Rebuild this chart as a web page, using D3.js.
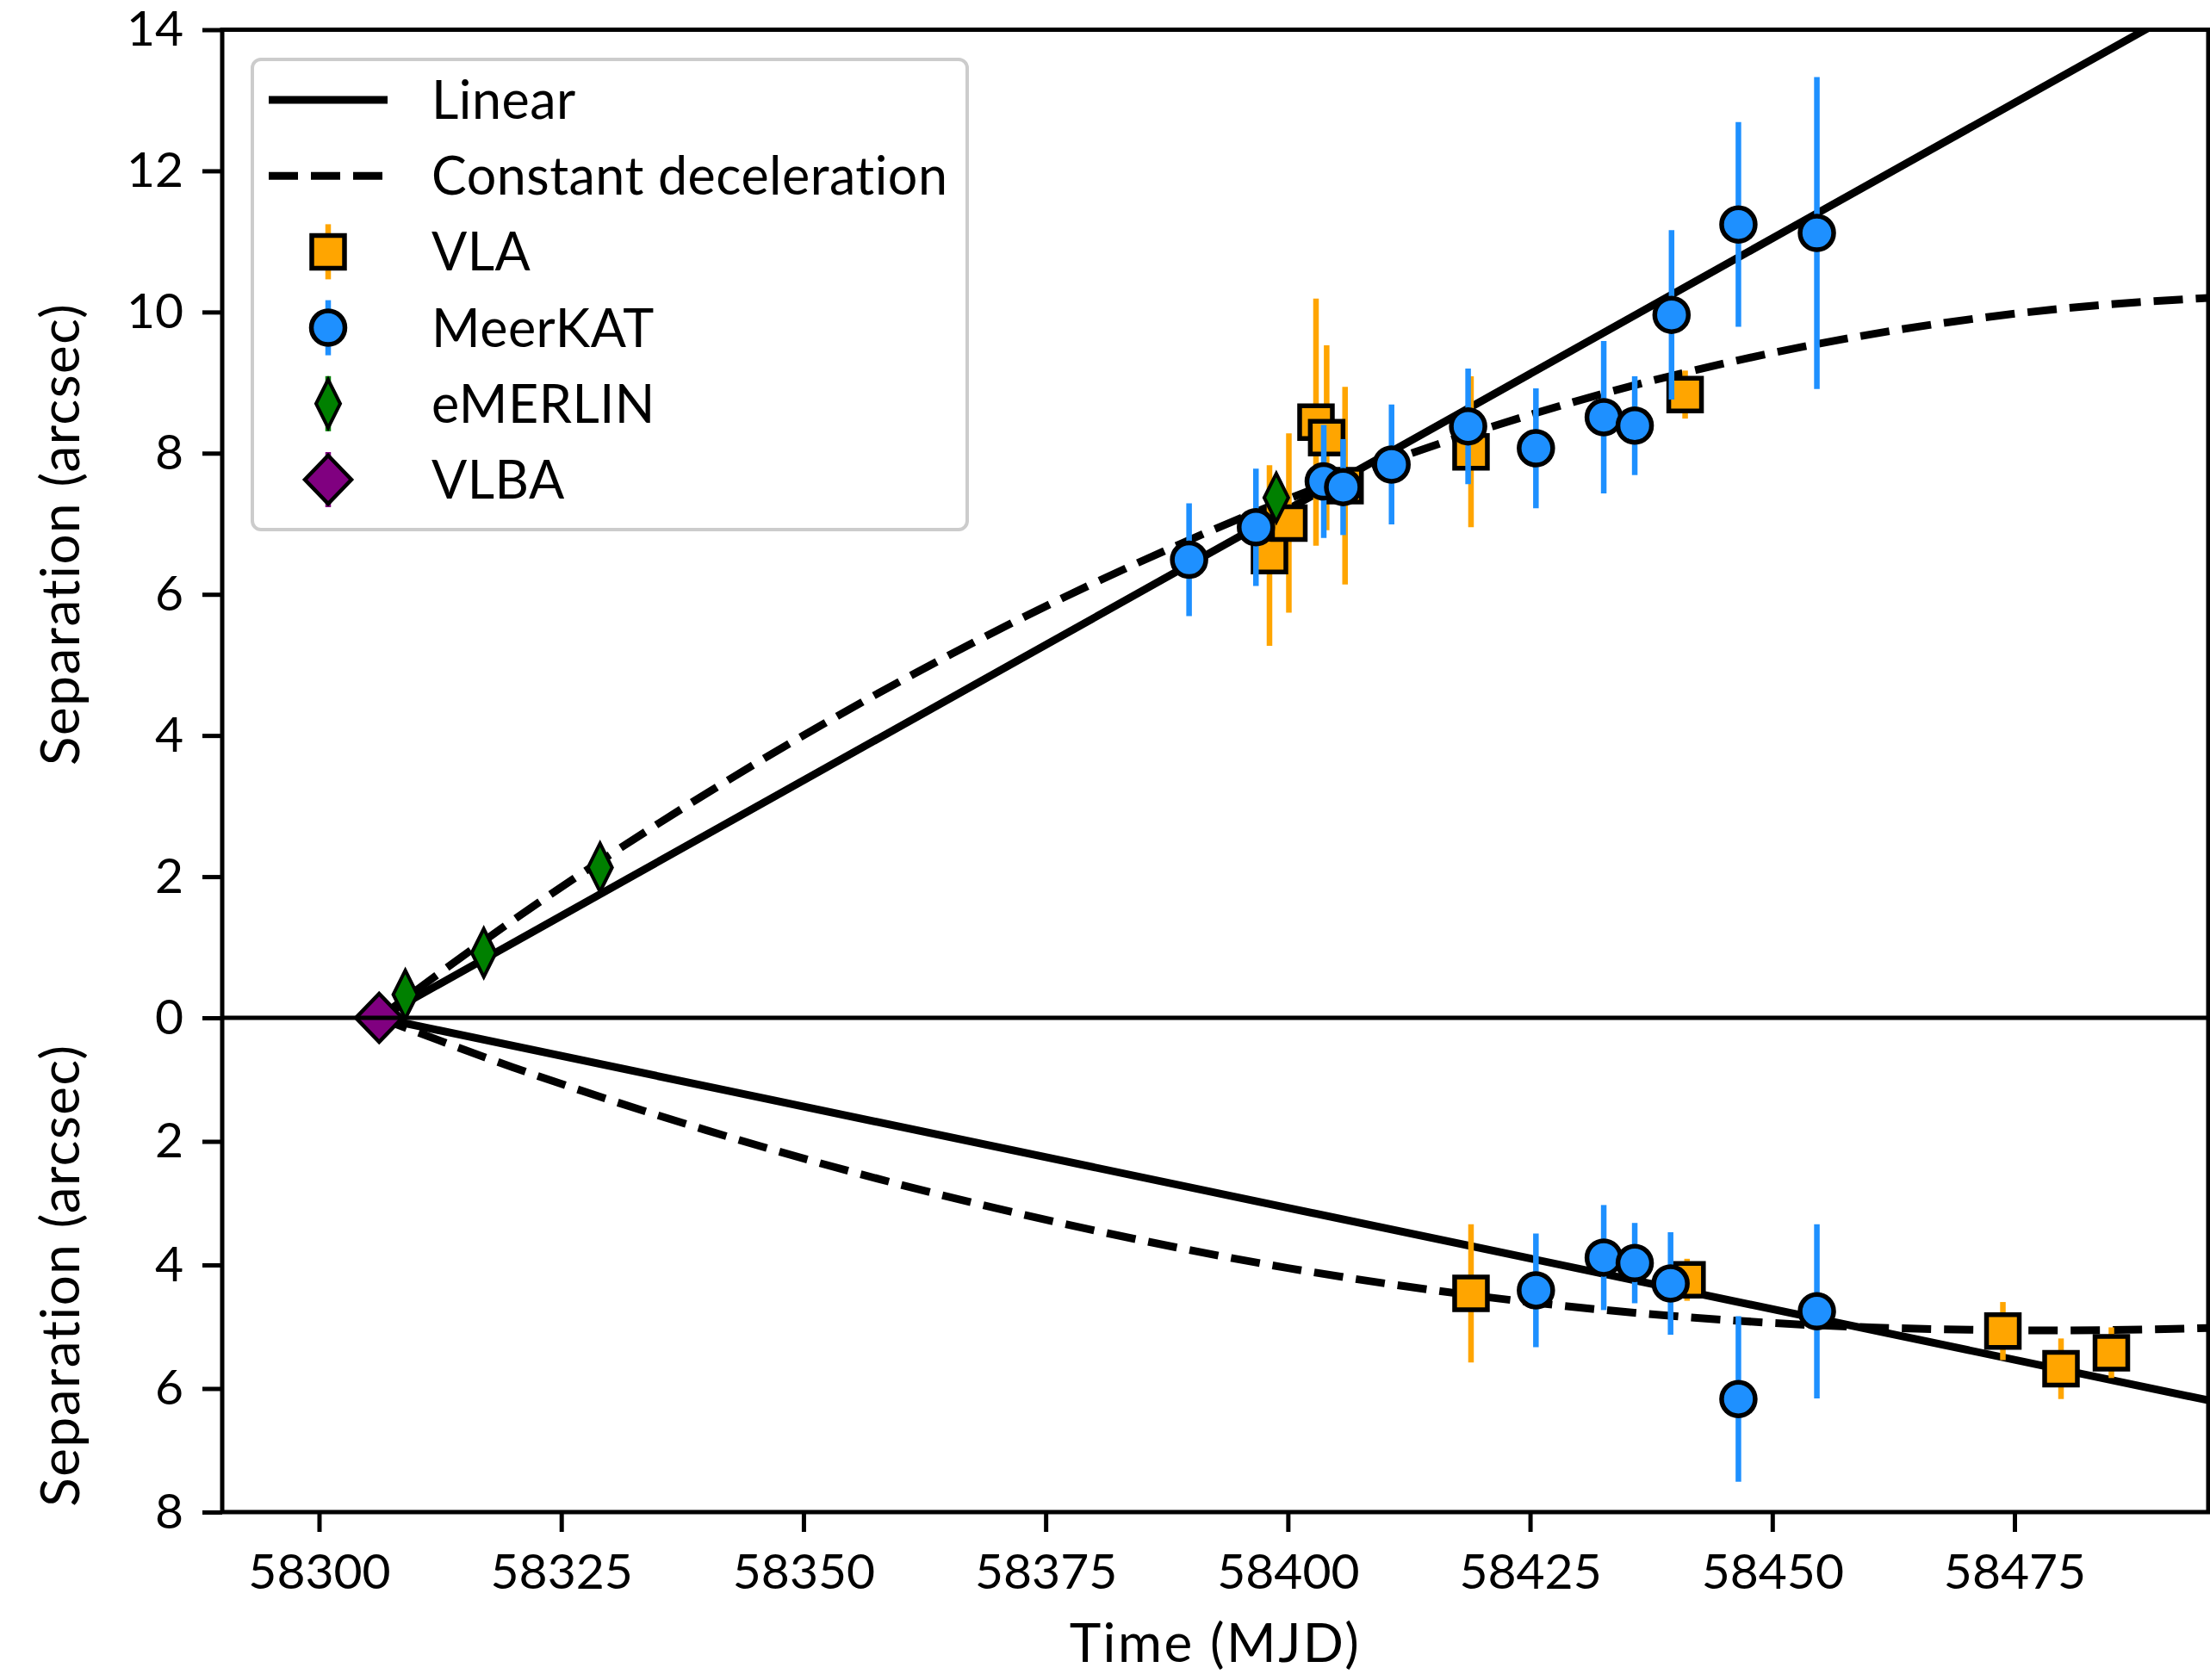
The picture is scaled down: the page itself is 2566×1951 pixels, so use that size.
<!DOCTYPE html>
<html>
<head>
<meta charset="utf-8">
<title>Separation vs time</title>
<style>
  body { margin: 0; background: #fff; }
  svg { display: block; font-family: Lato, "DejaVu Sans", sans-serif; }
</style>
</head>
<body>
<div id="chart"></div>
<script src="https://cdnjs.cloudflare.com/ajax/libs/d3/7.8.5/d3.min.js"></script>
<script>
// [MJD, separation (arcsec), error]
var vlaUp = [[58398.1, 6.55, 1.28], [58400.1, 7.01, 1.27], [58402.9, 8.44, 1.75],
  [58404.0, 8.22, 1.31], [58405.9, 7.54, 1.40], [58418.9, 8.02, 1.07], [58441.0, 8.83, 0.34]];
var meerUp = [[58389.8, 6.49, 0.80], [58396.7, 6.95, 0.83], [58403.7, 7.60, 0.80],
  [58405.7, 7.52, 0.68], [58410.7, 7.84, 0.85], [58418.6, 8.38, 0.82], [58425.6, 8.07, 0.85],
  [58432.6, 8.51, 1.08], [58435.8, 8.39, 0.70], [58439.6, 9.96, 1.20], [58446.5, 11.24, 1.45],
  [58454.6, 11.12, 2.21]];
var emerlin = [[58308.9, 0.33, 0.04], [58317.0, 0.92, 0.04], [58329.0, 2.13, 0.04], [58398.8, 7.37, 0.04]];
var vlba = [[58306.2, 0, 0.01]];

var vlaLow = [[58418.9, 4.46, 1.12], [58441.2, 4.24, 0.34], [58473.8, 5.07, 0.47],
  [58479.8, 5.68, 0.49], [58485.0, 5.42, 0.41]];
var meerLow = [[58425.6, 4.41, 0.92], [58432.6, 3.88, 0.85], [58435.8, 3.97, 0.65],
  [58439.5, 4.30, 0.83], [58446.5, 6.17, 1.34], [58454.6, 4.75, 1.41]];

// model curves
var linUp = [[58306.2, 0], [58495, 14.5]];
var decUp = [[58306.2, 0], [58320, 1.38], [58340, 3.18], [58360, 4.77], [58380, 6.16],
  [58400, 7.35], [58420, 8.33], [58440, 9.11], [58460, 9.68], [58480, 10.05], [58495, 10.2]];
var linLow = [[58306.2, 0], [58495, 6.19]];
var decLow = [[58306.2, 0], [58320, 0.80], [58340, 1.82], [58360, 2.70], [58380, 3.44],
  [58400, 4.05], [58420, 4.51], [58440, 4.83], [58460, 5.01], [58480, 5.06], [58495, 5.02]];

var xTicks = [58300, 58325, 58350, 58375, 58400, 58425, 58450, 58475];
var yTicksUp = [0, 2, 4, 6, 8, 10, 12, 14];
var yTicksLow = [2, 4, 6, 8];
var legendNames = ["Linear", "Constant deceleration", "VLA", "MeerKAT", "eMERLIN", "VLBA"];

var W = 2566, H = 1951;
var pL = 258, pR = 2564, pT = 34.5, pM = 1182, pB = 1756;
var fs = 57, lw = 5, modelW = 9, dash = "34,15";

var x = d3.scaleLinear().domain([58290, 58495]).range([pL, pR]);
var yUp = d3.scaleLinear().domain([0, 14]).range([pM, pT]);
var yLow = d3.scaleLinear().domain([0, 8]).range([pM, pB]);

var svg = d3.select("#chart").append("svg")
  .attr("width", W).attr("height", H);

var defs = svg.append("defs");
defs.append("clipPath").attr("id", "clipUp").append("rect")
  .attr("x", pL).attr("y", pT).attr("width", pR - pL).attr("height", pM - pT);
defs.append("clipPath").attr("id", "clipLow").append("rect")
  .attr("x", pL).attr("y", pM).attr("width", pR - pL).attr("height", pB - pM);

// marker shapes
function diamond(w, h) {
  return "M0," + (-h) + "L" + w + ",0L0," + h + "L" + (-w) + ",0Z";
}
var sym = {
  VLA: { fill: "orange", path: d3.symbol().type(d3.symbolSquare).size(38 * 38)(), sw: 5.5 },
  MeerKAT: { fill: "#1e90ff", path: d3.symbol().type(d3.symbolCircle).size(Math.PI * 19.5 * 19.5)(), sw: 5.5 },
  eMERLIN: { fill: "green", path: diamond(14, 28), sw: 4 },
  VLBA: { fill: "purple", path: diamond(27, 28), sw: 4.5 }
};

function panel(clip, y, series, lin, dec) {
  var g = svg.append("g").attr("clip-path", "url(#" + clip + ")");
  var line = d3.line().x(d => x(d[0])).y(d => y(d[1]));
  g.append("path").datum(lin).attr("d", line.curve(d3.curveLinear))
    .attr("fill", "none").attr("stroke", "black").attr("stroke-width", modelW);
  g.append("path").datum(dec).attr("d", line.curve(d3.curveMonotoneX))
    .attr("fill", "none").attr("stroke", "black").attr("stroke-width", modelW)
    .attr("stroke-dasharray", dash);
  series.forEach(function (s) {
    var st = sym[s.name];
    var sg = g.append("g");
    sg.selectAll("line").data(s.data).enter().append("line")
      .attr("x1", d => x(d[0])).attr("x2", d => x(d[0]))
      .attr("y1", d => y(d[1] - d[2])).attr("y2", d => y(d[1] + d[2]))
      .attr("stroke", st.fill).attr("stroke-width", 6.5);
    sg.selectAll("path").data(s.data).enter().append("path")
      .attr("d", st.path)
      .attr("transform", d => "translate(" + x(d[0]) + "," + y(d[1]) + ")")
      .attr("fill", st.fill).attr("stroke", "black").attr("stroke-width", st.sw);
  });
}

panel("clipUp", yUp, [
  { name: "VLA", data: vlaUp }, { name: "MeerKAT", data: meerUp },
  { name: "eMERLIN", data: emerlin }, { name: "VLBA", data: vlba }], linUp, decUp);
panel("clipLow", yLow, [
  { name: "VLA", data: vlaLow }, { name: "MeerKAT", data: meerLow },
  { name: "VLBA", data: vlba }], linLow, decLow);

// axes
function styleAxis(g) {
  g.select(".domain").remove();
  g.selectAll(".tick line").attr("stroke-width", lw);
  g.selectAll(".tick text").attr("font-size", fs).attr("fill", "#000")
    .attr("font-family", "Lato, sans-serif");
}
svg.append("g").attr("transform", "translate(" + pL + ",0)")
  .call(d3.axisLeft(yUp).tickValues(yTicksUp).tickSize(23).tickPadding(22)).call(styleAxis);
svg.append("g").attr("transform", "translate(" + pL + ",0)")
  .call(d3.axisLeft(yLow).tickValues(yTicksLow).tickSize(23).tickPadding(22)).call(styleAxis);
svg.append("g").attr("transform", "translate(0," + pB + ")")
  .call(d3.axisBottom(x).tickValues(xTicks).tickFormat(d3.format("d")).tickSize(23).tickPadding(26))
  .call(styleAxis);

// spines
svg.append("rect").attr("x", pL).attr("y", pT).attr("width", pR - pL).attr("height", pB - pT)
  .attr("fill", "none").attr("stroke", "black").attr("stroke-width", lw);
svg.append("line").attr("x1", pL).attr("x2", pR).attr("y1", pM).attr("y2", pM)
  .attr("stroke", "black").attr("stroke-width", lw);

// axis labels
svg.append("text").attr("x", (pL + pR) / 2).attr("y", 1930)
  .attr("text-anchor", "middle").attr("font-size", 62).attr("letter-spacing", 2.5)
  .text("Time (MJD)");
[(pT + pM) / 2 + 12, (pM + pB) / 2 + 12].forEach(function (cy) {
  svg.append("text")
    .attr("transform", "translate(92," + cy + ")rotate(-90)")
    .attr("text-anchor", "middle").attr("font-size", 62).attr("letter-spacing", 1.5)
    .text("Separation (arcsec)");
});

// legend
var lg = svg.append("g");
lg.append("rect").attr("x", 293).attr("y", 69).attr("width", 830).attr("height", 546)
  .attr("rx", 10).attr("fill", "white").attr("fill-opacity", 0.8)
  .attr("stroke", "#cccccc").attr("stroke-width", 4);
var rowY = d3.scalePoint().domain(legendNames).range([116, 557]);
legendNames.forEach(function (n, i) {
  var yy = rowY(n);
  if (i < 2) {
    lg.append("line").attr("x1", 312).attr("x2", 450).attr("y1", yy).attr("y2", yy)
      .attr("stroke", "black").attr("stroke-width", modelW)
      .attr("stroke-dasharray", i === 1 ? dash : null);
  } else {
    var st = sym[n];
    lg.append("line").attr("x1", 381).attr("x2", 381).attr("y1", yy - 32).attr("y2", yy + 32)
      .attr("stroke", st.fill).attr("stroke-width", 6.5);
    lg.append("path").attr("d", st.path).attr("transform", "translate(381," + yy + ")")
      .attr("fill", st.fill).attr("stroke", "black").attr("stroke-width", st.sw);
  }
  lg.append("text").attr("x", 501).attr("y", yy + 22).attr("font-size", 61)
    .attr("letter-spacing", 0.5).text(n);
});
</script>
</body>
</html>
